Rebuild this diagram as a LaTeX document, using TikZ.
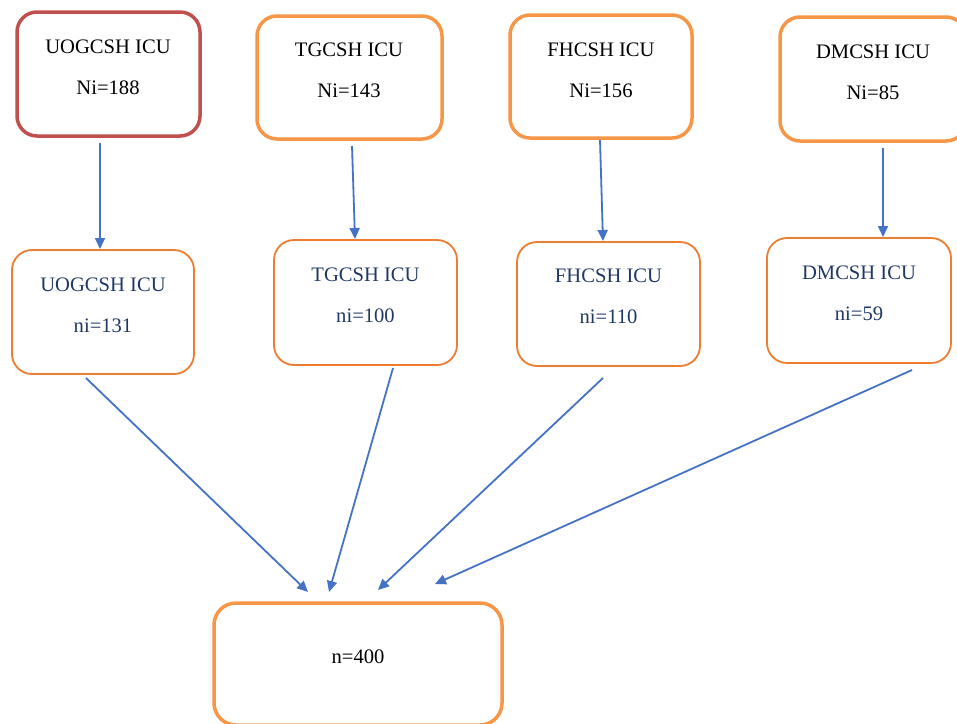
\documentclass[tikz,border=0pt]{standalone}
\usepackage{fontspec}
\setmainfont{Liberation Serif}
\usetikzlibrary{arrows.meta}
\definecolor{boxred}{HTML}{C0504D}
\definecolor{toporange}{HTML}{F79646}
\definecolor{midorange}{HTML}{ED7D31}
\definecolor{flowblue}{HTML}{4472C4}
\definecolor{navytext}{HTML}{1F3864}

\begin{document}
\begin{tikzpicture}[x=1pt,y=-1pt,
    hospital/.style={rectangle,rounded corners=20pt,line width=3.5pt,minimum width=183pt,minimum height=124pt},
    sample/.style={rectangle,rounded corners=20pt,line width=1.8pt,draw=midorange,minimum width=182pt,minimum height=124pt},
    lbl/.style={align=center,font=\fontsize{20.6}{41}\selectfont},
    flow/.style={-{Triangle[length=11pt,width=10pt]},line width=1.8pt,draw=flowblue,fill=flowblue}]
    \useasboundingbox (0,0) rectangle (957,723);

    \node (UOG) at (108.5,74) [hospital,draw=boxred] {};
    \node (TG) at (349.5,77.5) [hospital,draw=toporange,minimum width=185pt,minimum height=123pt] {};
    \node (FH) at (601,76.5) [hospital,draw=toporange,minimum width=182pt,minimum height=123pt] {};
    \node (DM) at (873,79) [hospital,draw=toporange,minimum width=186pt] {};
    \node (UOGn) at (108,67.5) [lbl] {UOGCSH ICU\\Ni=188};
    \node (TGn) at (349,70.5) [lbl] {TGCSH ICU\\Ni=143};
    \node (FHn) at (601,70) [lbl] {FHCSH ICU\\Ni=156};
    \node (DMn) at (873,72) [lbl] {DMCSH ICU\\Ni=85};

    \node (UOGs) at (103,312) [sample] {};
    \node (TGs) at (365.5,302.5) [sample,minimum width=183pt,minimum height=125pt] {};
    \node (FHs) at (608.5,304) [sample,minimum width=183pt] {};
    \node (DMs) at (859,300.5) [sample,minimum width=184pt,minimum height=125pt] {};
    \node (UOGsn) at (103,305) [lbl,text=navytext] {UOGCSH ICU\\ni=131};
    \node (TGsn) at (365.5,295.5) [lbl,text=navytext] {TGCSH ICU\\ni=100};
    \node (FHsn) at (608.5,296.5) [lbl,text=navytext] {FHCSH ICU\\ni=110};
    \node (DMsn) at (859,293.5) [lbl,text=navytext] {DMCSH ICU\\ni=59};

    \node (ALL) at (358,664) [hospital,draw=toporange,rounded corners=22pt,minimum width=288pt,minimum height=122pt] {};
    \node (ALLn) at (358,657) [lbl] {n=400};

    \coordinate (UOGa) at (100,143);  \coordinate (UOGb) at (100,249);
    \coordinate (TGa) at (352,146);   \coordinate (TGb) at (355,239);
    \coordinate (FHa) at (600,140);   \coordinate (FHb) at (603,241);
    \coordinate (DMa) at (883,148);   \coordinate (DMb) at (883,237);
    \coordinate (UOGc) at (86,378);   \coordinate (UOGd) at (308,592);
    \coordinate (TGc) at (393,368);   \coordinate (TGd) at (329,592);
    \coordinate (FHc) at (603,378);   \coordinate (FHd) at (378,590);
    \coordinate (DMc) at (912,370);   \coordinate (DMd) at (435,584);

    \draw[flow] (UOGa) -- (UOGb);
    \draw[flow] (TGa) -- (TGb);
    \draw[flow] (FHa) -- (FHb);
    \draw[flow] (DMa) -- (DMb);
    \draw[flow] (UOGc) -- (UOGd);
    \draw[flow] (TGc) -- (TGd);
    \draw[flow] (FHc) -- (FHd);
    \draw[flow] (DMc) -- (DMd);
\end{tikzpicture}
\end{document}
